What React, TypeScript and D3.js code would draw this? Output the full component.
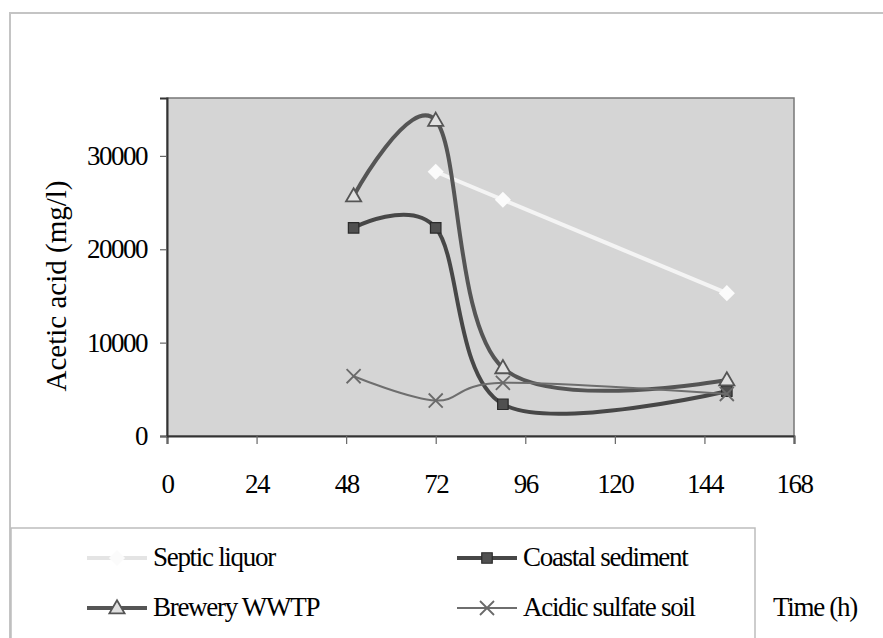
import { useEffect, useRef } from 'react';
import * as d3 from 'd3';

// sampling times (h)
const hours = [50, 72, 90, 150];

// acetic acid (mg/l) per inoculum
const septicLiquor: (number | null)[] = [null, 28300, 25300, 15300];
const coastalSediment = [22300, 22300, 3400, 4800];
const breweryWWTP = [25700, 33800, 7300, 6000];
const acidicSulfateSoil = [6400, 3800, 5700, 4500];

const seriesNames = ['Septic liquor', 'Coastal sediment', 'Brewery WWTP', 'Acidic sulfate soil'];

const xTicks = [0, 24, 48, 72, 96, 120, 144, 168];
const yTicks = [0, 10000, 20000, 30000];

const W = 883;
const H = 638;
const FONT = '"Liberation Serif", "Times New Roman", serif';

type Series = {
  name: string;
  values: (number | null)[];
  color: string;
  width: number;
  marker: 'diamond' | 'square' | 'triangle' | 'x';
};

export default function App() {
  const svgRef = useRef<SVGSVGElement>(null);

  useEffect(() => {
    if (!svgRef.current) return;
    const svg = d3.select(svgRef.current);
    svg.selectAll('*').remove();

    const plot = { left: 167, right: 794, top: 98, bottom: 436 };

    const x = d3.scaleLinear().domain([0, 168]).range([plot.left, plot.right]);
    const y = d3.scaleLinear().domain([0, 36200]).range([plot.bottom, plot.top]);

    // outer chart frame
    svg
      .append('rect')
      .attr('x', 10)
      .attr('y', 13)
      .attr('width', W + 20)
      .attr('height', H + 20)
      .attr('fill', '#fff')
      .attr('stroke', '#c4c4c4')
      .attr('stroke-width', 2);

    // plot area
    svg
      .append('rect')
      .attr('x', plot.left)
      .attr('y', plot.top)
      .attr('width', plot.right - plot.left)
      .attr('height', plot.bottom - plot.top)
      .attr('fill', '#d5d5d5')
      .attr('stroke', '#777')
      .attr('stroke-width', 1.5);

    // axes
    const axisX = d3
      .axisBottom(x)
      .tickValues(xTicks)
      .tickSize(8)
      .tickPadding(30)
      .tickFormat((d) => String(d));
    const gx = svg
      .append('g')
      .attr('transform', `translate(0, ${plot.bottom})`)
      .call(axisX);
    gx.select('.domain').attr('stroke', '#333').attr('stroke-width', 2);
    gx.selectAll('.tick line').attr('stroke', '#666').attr('stroke-width', 1.2);
    gx.selectAll('.tick text')
      .attr('font-family', FONT)
      .attr('font-size', 27)
      .attr('letter-spacing', '-1.5px')
      .attr('fill', '#000');

    const axisY = d3
      .axisLeft(y)
      .tickValues(yTicks)
      .tickSize(7)
      .tickPadding(13)
      .tickFormat((d) => String(d));
    const gy = svg
      .append('g')
      .attr('transform', `translate(${plot.left}, 0)`)
      .call(axisY);
    gy.select('.domain').attr('stroke', '#333').attr('stroke-width', 2);
    gy.selectAll('.tick line').attr('stroke', '#666').attr('stroke-width', 1.2);
    gy.selectAll('.tick text')
      .attr('font-family', FONT)
      .attr('font-size', 27)
      .attr('letter-spacing', '-1.5px')
      .attr('fill', '#000');

    // y title
    svg
      .append('text')
      .attr('transform', `translate(66, 286) rotate(-90)`)
      .attr('text-anchor', 'middle')
      .attr('font-family', FONT)
      .attr('font-size', 29)
      .attr('fill', '#000')
      .text('Acetic acid (mg/l)');

    const series: Series[] = [
      { name: seriesNames[0], values: septicLiquor, color: '#f4f4f4', width: 4, marker: 'diamond' },
      { name: seriesNames[1], values: coastalSediment, color: '#474747', width: 4, marker: 'square' },
      { name: seriesNames[2], values: breweryWWTP, color: '#555', width: 4, marker: 'triangle' },
      { name: seriesNames[3], values: acidicSulfateSoil, color: '#6e6e6e', width: 2, marker: 'x' },
    ];

    const drawMarker = (
      g: d3.Selection<SVGGElement, unknown, null, undefined>,
      kind: Series['marker'],
      cx: number,
      cy: number
    ) => {
      if (kind === 'diamond') {
        g.append('path')
          .attr('d', d3.symbol(d3.symbolSquare, 130)())
          .attr('transform', `translate(${cx},${cy}) rotate(45)`)
          .attr('fill', '#fbfbfb')
          .attr('stroke', 'none');
      } else if (kind === 'square') {
        g.append('path')
          .attr('d', d3.symbol(d3.symbolSquare, 110)())
          .attr('transform', `translate(${cx},${cy})`)
          .attr('fill', '#505050')
          .attr('stroke', '#2a2a2a')
          .attr('stroke-width', 1.2);
      } else if (kind === 'triangle') {
        g.append('path')
          .attr('d', d3.symbol(d3.symbolTriangle, 100)())
          .attr('transform', `translate(${cx},${cy + 1})`)
          .attr('fill', '#e0e0e0')
          .attr('stroke', '#555')
          .attr('stroke-width', 1.8);
      } else {
        g.append('path')
          .attr('d', d3.symbol(d3.symbolTimes, 130)())
          .attr('transform', `translate(${cx},${cy})`)
          .attr('fill', 'none')
          .attr('stroke', '#6a6a6a')
          .attr('stroke-width', 1.8);
      }
    };

    const line = d3
      .line<[number, number]>()
      .x((d) => x(d[0]))
      .y((d) => y(d[1]))
      .curve(d3.curveCardinal.tension(0));

    series.forEach((s) => {
      const pts: [number, number][] = [];
      s.values.forEach((v, i) => {
        if (v != null) pts.push([hours[i], v]);
      });
      const g = svg.append('g');
      g.append('path')
        .attr('d', line(pts))
        .attr('fill', 'none')
        .attr('stroke', s.color)
        .attr('stroke-width', s.width)
        .attr('stroke-linejoin', 'round')
        .attr('stroke-linecap', 'round');
      pts.forEach((p) => drawMarker(g, s.marker, x(p[0]), y(p[1])));
    });

    // legend box
    svg
      .append('rect')
      .attr('x', 11)
      .attr('y', 528)
      .attr('width', 755 - 11)
      .attr('height', 200)
      .attr('fill', '#fff')
      .attr('stroke', '#bdbdbd')
      .attr('stroke-width', 1.5);

    const legendCols = [87, 457];
    const legendRows = [566, 616];
    series.forEach((s, i) => {
      const col = legendCols[i % 2];
      const base = legendRows[Math.floor(i / 2)];
      const ly = base - 8;
      const g = svg.append('g');
      g.append('line')
        .attr('x1', col)
        .attr('x2', col + 60)
        .attr('y1', ly)
        .attr('y2', ly)
        .attr('stroke', s.marker === 'diamond' ? '#e4e4e4' : s.color)
        .attr('stroke-width', s.width);
      drawMarker(g, s.marker, col + 30, ly);
      g.append('text')
        .attr('x', col + 66)
        .attr('y', base)
        .attr('font-family', FONT)
        .attr('font-size', 27)
        .attr('letter-spacing', '-1.3px')
        .attr('fill', '#000')
        .text(s.name);
    });

    // x title
    svg
      .append('text')
      .attr('x', 773)
      .attr('y', legendRows[1])
      .attr('font-family', FONT)
      .attr('font-size', 27)
      .attr('letter-spacing', '-1.3px')
      .attr('fill', '#000')
      .text('Time (h)');
  }, []);

  return (
    <svg
      ref={svgRef}
      width={W}
      height={H}
      style={{ position: 'absolute', left: 0, top: 0, background: '#fff' }}
      role="img"
      aria-label="Acetic acid over time chart"
    />
  );
}
